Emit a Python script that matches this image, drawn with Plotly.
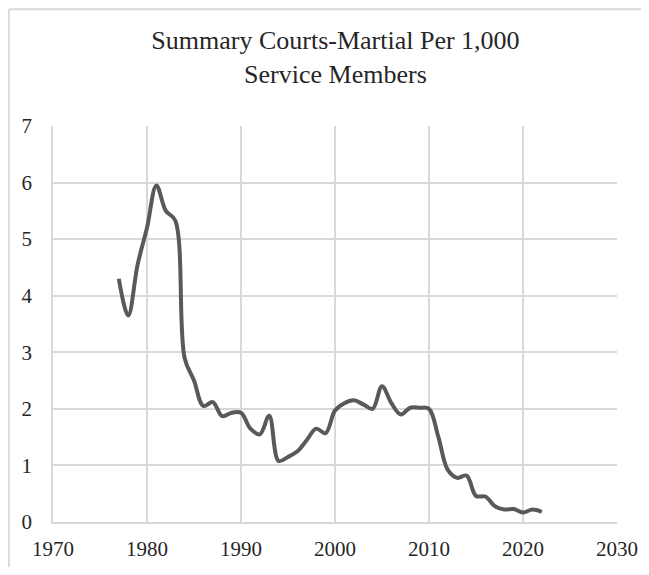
import plotly.graph_objects as go

years = list(range(1977, 2023))
rates = [4.30, 3.65, 4.55, 5.20, 5.95, 5.50, 5.33, 2.90, 2.50, 2.05,
         2.12, 1.87, 1.93, 1.93, 1.65, 1.55, 1.88, 1.08, 1.15, 1.25,
         1.45, 1.65, 1.57, 1.97, 2.10, 2.15, 2.08, 2.00, 2.40, 2.10,
         1.90, 2.02, 2.02, 2.00, 1.50, 0.92, 0.78, 0.82, 0.46, 0.45,
         0.28, 0.22, 0.23, 0.17, 0.22, 0.18]

x_ticks = [1970, 1980, 1990, 2000, 2010, 2020, 2030]
y_ticks = [0, 1, 2, 3, 4, 5, 6, 7]

FONT = "Liberation Serif, Times New Roman, serif"

# figure sits at an 8px body margin; keep page from overflowing the window
W, H = 633, 559
L, T, R, B = 45, 118, 24, 45
PW, PH = W - L - R, H - T - B

fx0 = (0.8 - L) / PW          # left frame edge, paper units
fy1 = (H - B - 1.2) / PH      # top frame edge, paper units

fig = go.Figure()
fig.add_trace(go.Scatter(
    x=years, y=rates, mode="lines",
    line=dict(color="#595959", width=4, shape="spline", smoothing=1.0),
    hoverinfo="x+y", showlegend=False,
))

fig.update_layout(
    width=W, height=H,
    margin=dict(l=L, r=R, t=T, b=B, autoexpand=False),
    paper_bgcolor="white", plot_bgcolor="white",
    title=dict(
        text="Summary Courts-Martial Per 1,000<br>Service Members",
        x=(L + PW / 2 - 10) / W, xref="paper", xanchor="center",
        y=1 - 41 / H, yref="container", yanchor="top",
        font=dict(family=FONT, size=26, color="#262626"),
    ),
    font=dict(family=FONT, size=21, color="#262626"),
    shapes=[
        dict(type="line", xref="paper", yref="paper",
             x0=fx0, x1=fx0, y0=-0.3, y1=fy1,
             line=dict(color="#d9d9d9", width=2), layer="below"),
        dict(type="line", xref="paper", yref="paper",
             x0=fx0, x1=1.3, y0=fy1, y1=fy1,
             line=dict(color="#d9d9d9", width=2), layer="below"),
    ],
)

fig.update_xaxes(
    range=[1970, 2030], tickvals=x_ticks, ticktext=[str(v) for v in x_ticks],
    showgrid=True, gridcolor="#d9d9d9", gridwidth=1.5,
    showline=True, linecolor="#d9d9d9", linewidth=1.5, mirror=False,
    zeroline=False, ticks="", ticklabelstandoff=7, automargin=False,
    tickfont=dict(family=FONT, size=21, color="#262626"),
)
fig.update_yaxes(
    range=[0, 7], tickvals=y_ticks, ticktext=[str(v) for v in y_ticks],
    showgrid=True, gridcolor="#d9d9d9", gridwidth=1.5,
    showline=True, linecolor="#d9d9d9", linewidth=1.5,
    zeroline=False, ticks="", ticklabelstandoff=15, automargin=False,
    tickfont=dict(family=FONT, size=21, color="#262626"),
)

fig.write_html("out.html")
